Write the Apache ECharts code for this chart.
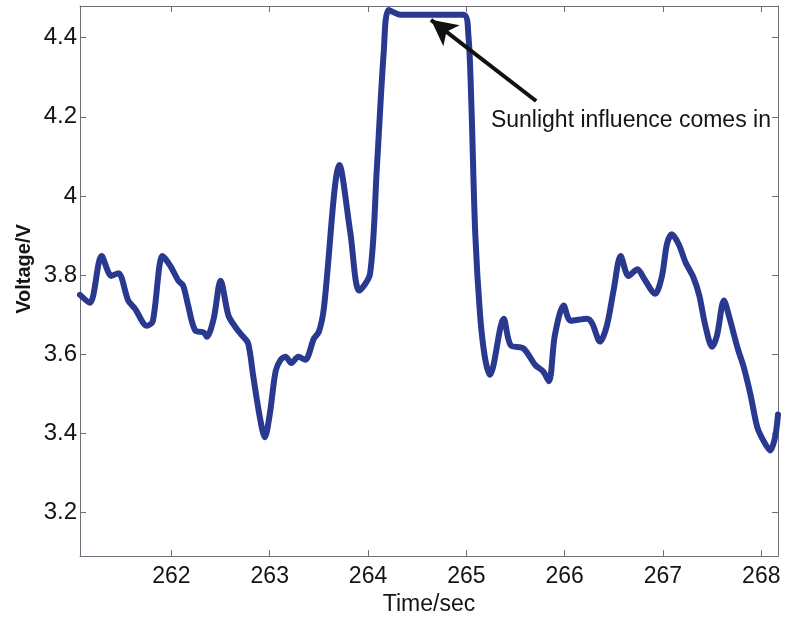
<!DOCTYPE html>
<html>
<head>
<meta charset="utf-8">
<style>
  html, body { margin: 0; padding: 0; background: #fff; }
  #chart { width: 793px; height: 621px; }
</style>
<script src="https://cdn.jsdelivr.net/npm/echarts@6/dist/echarts.min.js"></script>
</head>
<body>
<div id="chart"></div>
<script>
// Sensor voltage trace over time (seconds)
const timeSec = [
  261.07, 261.17, 261.29, 261.39, 261.46, 261.56, 261.63, 261.75, 261.81, 261.91,
  261.99, 262.07, 262.12, 262.17, 262.24, 262.33, 262.36, 262.43, 262.50, 262.58,
  262.65, 262.72, 262.78, 262.83, 262.90, 262.95, 263.00, 263.06, 263.11, 263.16,
  263.22, 263.29, 263.36, 263.45, 263.50, 263.55, 263.71, 263.82, 263.91, 264.02,
  264.09, 264.16, 264.21, 264.33, 264.97, 265.02, 265.05, 265.09, 265.14, 265.19,
  265.24, 265.38, 265.45, 265.58, 265.70, 265.78, 265.84, 265.90, 265.99, 266.06,
  266.23, 266.28, 266.36, 266.43, 266.50, 266.57, 266.65, 266.74, 266.81, 266.92,
  266.99, 267.04, 267.09, 267.16, 267.23, 267.31, 267.37, 267.43, 267.50, 267.55,
  267.62, 267.67, 267.76, 267.82, 267.89, 267.96, 268.03, 268.09, 268.14, 268.17
];
const voltage = [
  3.750, 3.730, 3.848, 3.798, 3.805, 3.736, 3.715, 3.672, 3.683, 3.848,
  3.823, 3.786, 3.773, 3.723, 3.661, 3.655, 3.644, 3.690, 3.786, 3.698,
  3.669, 3.647, 3.628, 3.548, 3.440, 3.390, 3.448, 3.557, 3.586, 3.594,
  3.578, 3.594, 3.586, 3.640, 3.657, 3.715, 4.078, 3.907, 3.761, 3.803,
  4.073, 4.365, 4.470, 4.458, 4.458, 4.408, 4.240, 3.908, 3.698, 3.590,
  3.548, 3.690, 3.623, 3.615, 3.573, 3.557, 3.532, 3.648, 3.723, 3.685,
  3.690, 3.678, 3.632, 3.673, 3.765, 3.848, 3.798, 3.815, 3.790, 3.753,
  3.798, 3.878, 3.903, 3.878, 3.832, 3.794, 3.748, 3.673, 3.619, 3.648,
  3.736, 3.698, 3.615, 3.569, 3.498, 3.415, 3.378, 3.357, 3.390, 3.448
];
const xTicks = [262, 263, 264, 265, 266, 267, 268];
const yTicks = [3.2, 3.4, 3.6, 3.8, 4.0, 4.2, 4.4];

// Annotation: arrow from the note towards the saturated plateau
const noteText = 'Sunlight influence comes in';
const arrowTail = [265.71, 4.24];
const arrowHead = [264.64, 4.445];
const noteAnchor = [265.25, 4.19];

const X_MIN = 261.07, X_MAX = 268.17, Y_MIN = 3.09, Y_MAX = 4.48;
const FONT = '"Liberation Sans", Arial, sans-serif';
const INK = '#141414';
const FRAME = '#6e6e78';

const chart = echarts.init(document.getElementById('chart'), null, { renderer: 'canvas' });

function labelFmt(v) {
  const r = Math.round(v * 10) / 10;
  return Number.isInteger(r) ? String(r) : r.toFixed(1);
}

const tickStyle = { show: true, inside: true, length: 6, lineStyle: { color: FRAME, width: 1 } };
const lineStyleFrame = { show: true, onZero: false, lineStyle: { color: FRAME, width: 1 } };

chart.setOption({
  animation: false,
  backgroundColor: '#fff',
  grid: { left: 80, right: 15, top: 6, bottom: 61, containLabel: false },
  xAxis: [
    {
      type: 'value', position: 'bottom', min: X_MIN, max: X_MAX,
      axisLine: lineStyleFrame,
      axisTick: Object.assign({ customValues: xTicks }, tickStyle),
      axisLabel: { customValues: xTicks, formatter: labelFmt, color: INK, fontFamily: FONT, fontSize: 23, margin: 9 },
      splitLine: { show: false },
      name: 'Time/sec', nameLocation: 'middle', nameGap: 34,
      nameTextStyle: { color: INK, fontFamily: FONT, fontSize: 23 }
    },
    {
      type: 'value', position: 'top', min: X_MIN, max: X_MAX,
      axisLine: lineStyleFrame,
      axisTick: Object.assign({ customValues: xTicks }, tickStyle),
      axisLabel: { show: false },
      splitLine: { show: false }
    }
  ],
  yAxis: [
    {
      type: 'value', position: 'left', min: Y_MIN, max: Y_MAX,
      axisLine: lineStyleFrame,
      axisTick: Object.assign({ customValues: yTicks }, tickStyle),
      axisLabel: { customValues: yTicks, formatter: labelFmt, color: INK, fontFamily: FONT, fontSize: 24, margin: 3 },
      splitLine: { show: false }
    },
    {
      type: 'value', position: 'right', min: Y_MIN, max: Y_MAX,
      axisLine: lineStyleFrame,
      axisTick: Object.assign({ customValues: yTicks }, tickStyle),
      axisLabel: { show: false },
      splitLine: { show: false }
    }
  ],
  series: [
    {
      type: 'line',
      xAxisIndex: 0, yAxisIndex: 0,
      data: timeSec.map((t, i) => [t, voltage[i]]),
      showSymbol: false,
      smooth: 0.3,
      clip: true,
      lineStyle: { color: '#2a3990', width: 6, cap: 'round', join: 'round' },
      emphasis: { disabled: true },
      markLine: {
        silent: true,
        animation: false,
        label: { show: false },
        emphasis: { disabled: true },
        lineStyle: { color: '#111', width: 4, type: 'solid' },
        data: [[
          { coord: arrowTail, symbol: 'none' },
          { coord: arrowHead, symbol: 'arrow', symbolSize: [20, 26] }
        ]]
      }
    }
  ]
});

// Place the note text and the rotated y-axis title
const notePx = chart.convertToPixel({ xAxisIndex: 0, yAxisIndex: 0 }, noteAnchor);
chart.setOption({
  graphic: [
    {
      type: 'text', left: notePx[0], top: notePx[1] - 12,
      style: { text: noteText, fill: INK, font: '23px ' + FONT }
    },
    {
      type: 'text', x: 24, y: 269, rotation: Math.PI / 2,
      style: { text: 'Voltage/V', fill: INK, font: 'bold 20px ' + FONT, align: 'center', verticalAlign: 'middle' }
    }
  ]
});
</script>
</body>
</html>
